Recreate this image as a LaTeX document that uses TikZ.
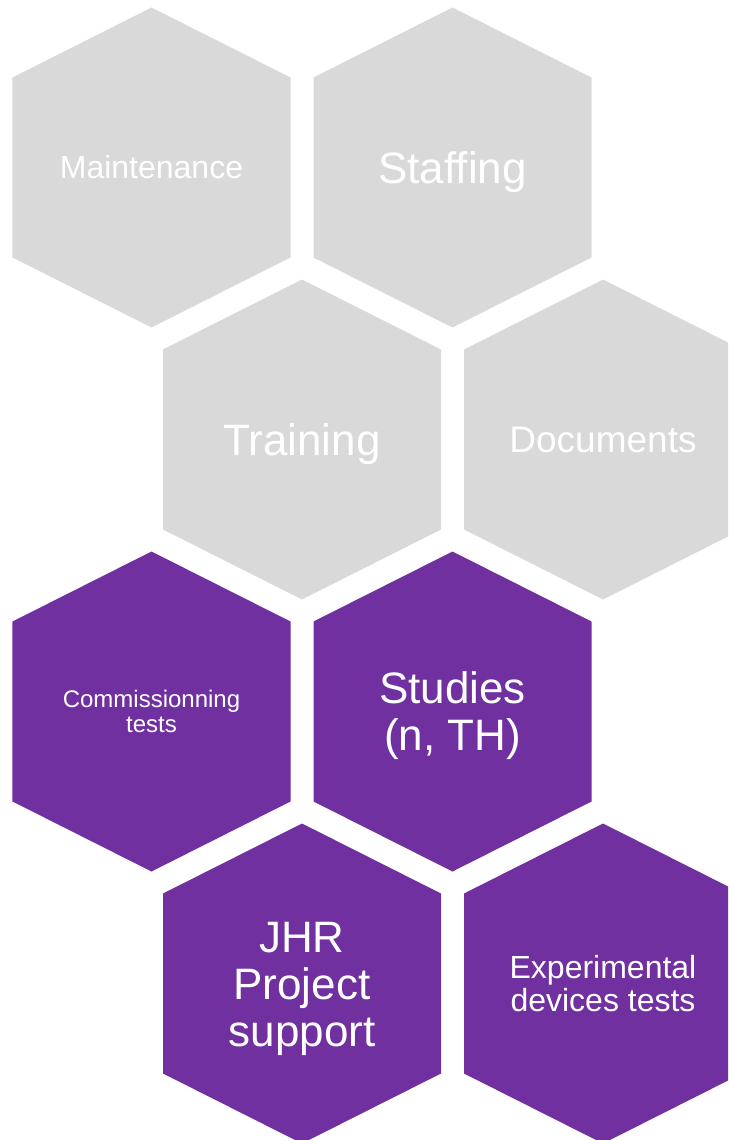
\documentclass[tikz,border=0pt]{standalone}
\usepackage{fontspec}
\setmainfont{Liberation Sans}
\usepackage{tikz}
\definecolor{lightgrey}{HTML}{D9D9D9}
\definecolor{darkpurple}{HTML}{7030A0}
\newcommand{\SIZE}[2]{\fontsize{#1pt}{#2pt}\selectfont}
\tikzset{
  greycell/.style={fill=lightgrey, draw=none},
  purplecell/.style={fill=darkpurple, draw=none},
  celltext/.style={text=white, align=center, inner sep=0pt}
}

\begin{document}
\begin{tikzpicture}
\newcommand\X{301pt}
\newcommand\Y{272pt}
\newcommand\Hex{+(0pt,160pt) -- +(139pt,90pt) -- +(139pt,-90pt) -- +(0pt,-160pt)
 -- +(-139pt,-90pt) -- +(-139pt,90pt) -- cycle}

\clip (-151.5pt,167.5pt) rectangle (576.5pt,-972.5pt);

\draw[greycell]( 0*\X, 0*\Y)
node[celltext, font=\SIZE{32}{34}] (maintenance) {Maintenance} \Hex;
\draw[greycell]( 1*\X, 0*\Y)
node[celltext, font=\SIZE{44}{47}, yshift=-5pt] (staffing) {Staffing} \Hex;

\draw[greycell]( 0.5*\X, -1*\Y)
node[celltext, font=\SIZE{44}{47}, yshift=-5pt] (training) {Training} \Hex;
\draw[greycell]( 1.5*\X, -1*\Y)
node[celltext, font=\SIZE{37}{40}] (documents) {Documents} \Hex;

\draw[purplecell]( 0*\X, -2*\Y)
node[celltext, font=\SIZE{24}{25}] (commissioning) {Commissionning\\tests} \Hex;
\draw[purplecell]( 1*\X, -2*\Y)
node[celltext, font=\SIZE{44}{47}, yshift=-4pt] (studies) {Studies\\(n, TH)} \Hex;

\draw[purplecell]( 0.5*\X, -3*\Y)
node[celltext, font=\SIZE{44}{47}, yshift=-5pt] (jhr) {JHR\\Project\\support} \Hex;
\draw[purplecell]( 1.5*\X, -3*\Y)
node[celltext, font=\SIZE{32}{33}] (experimental) {Experimental\\devices tests} \Hex;
\end{tikzpicture}
\end{document}
